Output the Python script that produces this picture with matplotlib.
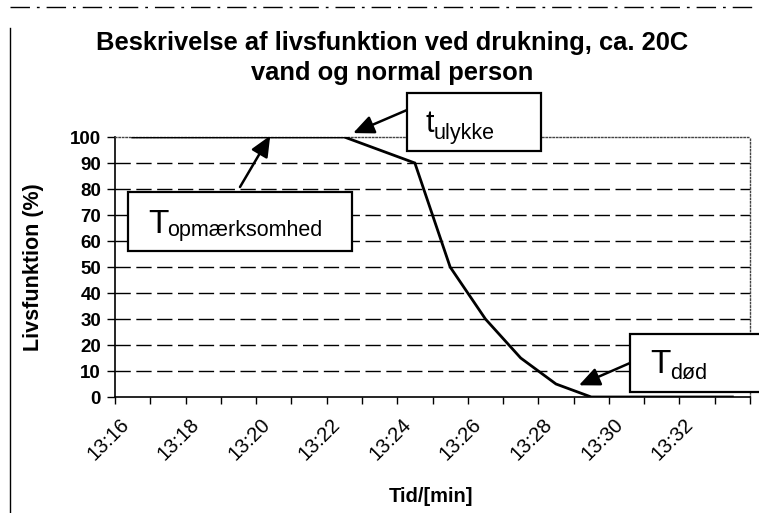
import matplotlib
matplotlib.use("Agg")
import matplotlib.pyplot as plt
from matplotlib.patches import Rectangle
from matplotlib.lines import Line2D

plt.rcParams['font.family'] = ['Liberation Sans', 'DejaVu Sans']

# ---- data ----
times = ["13:16", "13:17", "13:18", "13:19", "13:20", "13:21", "13:22", "13:23",
         "13:24", "13:25", "13:26", "13:27", "13:28", "13:29", "13:30", "13:31",
         "13:32", "13:33"]
livsfunktion = [100, 100, 100, 100, 100, 100, 100, 95, 90, 50, 30, 15, 5, 0, 0, 0, 0, 0]
yticks = list(range(0, 101, 10))
title_lines = ["Beskrivelse af livsfunktion ved drukning, ca. 20C", "vand og normal person"]
xlabel = "Tid/[min]"
ylabel = "Livsfunktion (%)"

W, H = 759, 513
fig = plt.figure(figsize=(W / 100, H / 100), dpi=100)

def fx(x):
    return x / W

def fy(y):
    return 1 - y / H

ax = fig.add_axes([fx(115), fy(397), fx(750) - fx(115), fy(137) - fy(397)])

n = len(times)
xs = list(range(n))
ax.plot(xs, livsfunktion, color='black', lw=2.0, zorder=3, solid_joinstyle='miter')

ax.set_xlim(-0.5, n - 0.5)
ax.set_ylim(0, 100)
ax.set_yticks(yticks)
ax.set_yticklabels([str(v) for v in yticks], fontsize=13.5, fontweight='bold')

# category axis: tick marks between categories, labels every second category
ax.set_xticks([i - 0.5 for i in range(n + 1)], minor=True)
ax.set_xticks(xs[::2])
ax.set_xticklabels(times[::2], rotation=45, ha='right', va='top', fontsize=14.5,
                   rotation_mode='default')
ax.tick_params(axis='x', which='major', length=0, pad=13)
ax.tick_params(axis='x', which='minor', length=5, width=1, direction='out', color='black')
ax.tick_params(axis='y', which='major', length=6, width=1, direction='out', pad=4)

# gridlines
for v in yticks[1:-1]:
    ax.axhline(v, color='black', lw=1.0, ls=(0, (11, 4)), zorder=1)

for s in ['left', 'bottom']:
    ax.spines[s].set_color('black')
    ax.spines[s].set_linewidth(1.2)
for s in ['top', 'right']:
    ax.spines[s].set_color('#444444')
    ax.spines[s].set_linewidth(1.0)
    ax.spines[s].set_linestyle((0, (1, 1.5)))

ax.set_xlabel(xlabel, fontsize=14.5, fontweight='bold')
ax.set_ylabel(ylabel, fontsize=15.5, fontweight='bold')
ax.xaxis.set_label_coords(0.497, -0.345)
ax.yaxis.set_label_coords(-0.112, 0.5)

# title
fig.text(fx(392), fy(50), title_lines[0], ha='center', va='baseline',
         fontsize=18.4, fontweight='bold')
fig.text(fx(392), fy(80), title_lines[1], ha='center', va='baseline',
         fontsize=18.4, fontweight='bold')

# chart-area border (scan)
fig.add_artist(Line2D([fx(10), fx(759)], [fy(7), fy(7)], color='black', lw=1.0,
                      ls=(0, (14, 5, 2, 5))))
fig.add_artist(Line2D([fx(10), fx(10)], [fy(28), fy(513)], color='black', lw=1.0))

# annotation boxes
def box(x0, y0, x1, y1, big, small, bx, bby, sx, sby, bsize, ssize):
    fig.add_artist(Rectangle((fx(x0), fy(y1)), fx(x1) - fx(x0), fy(y0) - fy(y1),
                             transform=fig.transFigure, facecolor='white',
                             edgecolor='black', lw=1.6, zorder=5))
    fig.text(fx(bx), fy(bby), big, ha='left', va='baseline', fontsize=bsize, zorder=6)
    fig.text(fx(sx), fy(sby), small, ha='left', va='baseline', fontsize=ssize, zorder=6)

def arrow(target, start_px):
    ax.annotate('', xy=target, xycoords='data',
                xytext=(start_px[0], H - start_px[1]), textcoords='figure pixels',
                arrowprops=dict(arrowstyle='-|>,head_length=0.9,head_width=0.4',
                                color='black', lw=1.8, mutation_scale=14,
                                shrinkA=0, shrinkB=0),
                annotation_clip=False, zorder=6)

box(128, 192, 352, 251, "T", "opmærksomhed", 148, 233, 167, 236, 24, 15.5)
arrow((3.9, 100.5), (240, 187))

box(407, 93, 541, 151, "t", "ulykke", 426, 132, 434, 139, 22, 15.5)
arrow((6.25, 101.5), (407, 110))

box(630, 334, 775, 392, "T", "død", 650, 373, 670, 379, 24, 15.5)
arrow((12.65, 4.5), (630, 363))

fig.savefig("out.png", dpi=100)
